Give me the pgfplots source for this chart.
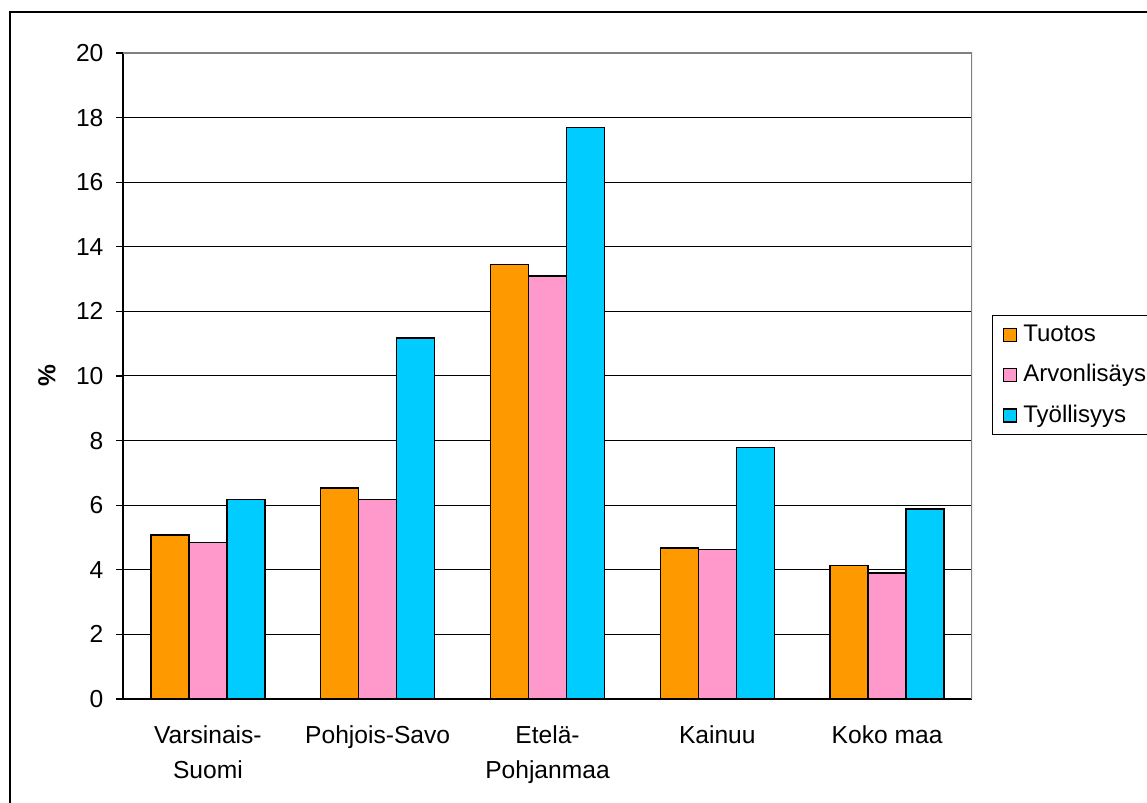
\documentclass[border=0pt]{standalone}
\usepackage{fontspec}
\setmainfont{Liberation Sans}
\usepackage{pgfplots}
\pgfplotsset{compat=1.18}
\definecolor{cO}{HTML}{FF9900}
\definecolor{cP}{HTML}{FF99CC}
\definecolor{cC}{HTML}{00CCFF}
\begin{document}
\fontsize{12.3pt}{14pt}\selectfont
\begin{tikzpicture}
\useasboundingbox (0,0) rectangle (573.5pt,401.5pt);
\clip (0,0) rectangle (573.5pt,401.5pt);
\fill[white] (0,0) rectangle (573.5pt,401.5pt);
\draw[line width=0.6pt] (5pt,-20pt) -- (5pt,395.5pt) -- (600pt,395.5pt);
\begin{axis}[
  at={(61.5pt,52pt)}, anchor=south west,
  scale only axis, width=424.5pt, height=323pt,
  ybar=0pt, bar width=19pt,
  xmin=-0.5, xmax=4.5, ymin=0, ymax=20,
  axis x line*=bottom, axis y line*=left,
  axis line style={black, line width=0.6pt},
  ytick={0,2,...,20},
  tick align=outside,
  major tick length=3.5pt,
  tick style={black, line width=0.6pt},
  ymajorgrids, major grid style={black, line width=0.5pt},
  xtick={0,1,2,3,4},
  xticklabels={{Varsinais-\\Suomi},Pohjois-Savo,{Etelä-\\Pohjanmaa},Kainuu,Koko maa},
  x tick style={draw=none},
  minor xtick={-0.5,0.5,1.5,2.5,3.5,4.5},
  minor tick length=3.5pt,
  minor x tick style={black, line width=0.6pt},
  xticklabel style={align=center, font=\fontsize{12.3pt}{17.5pt}\selectfont, yshift=-5.5pt},
  yticklabel style={font=\fontsize{12.3pt}{14pt}\selectfont, xshift=-2pt},
  /pgf/number format/assume math mode=true,
  ylabel={\textbf{\%}},
  ylabel style={at={(axis description cs:-0.0895,0.5)}, anchor=center, font=\fontsize{12.3pt}{14pt}\selectfont},
  legend style={at={(axis description cs:1.0236,0.594)}, anchor=north west,
    draw=black, line width=0.5pt, font=\fontsize{12pt}{14pt}\selectfont,
    inner xsep=5pt, inner ysep=2.5pt, row sep=5.7pt, legend cell align=left,
    /tikz/every odd column/.append style={column sep=1.2pt}},
  legend image code/.code={\draw[#1, draw=black, line width=0.7pt] (0pt,-3.25pt) rectangle (6.5pt,3.25pt);},
]
\addplot[fill=cO, draw=black, line width=0.7pt] coordinates {(0,5.08) (1,6.53) (2,13.45) (3,4.68) (4,4.13)};
\addplot[fill=cP, draw=black, line width=0.7pt] coordinates {(0,4.85) (1,6.18) (2,13.1) (3,4.62) (4,3.9)};
\addplot[fill=cC, draw=black, line width=0.7pt] coordinates {(0,6.17) (1,11.18) (2,17.7) (3,7.78) (4,5.88)};
\legend{Tuotos,Arvonlisäys,Työllisyys}
\draw[gray, line width=0.6pt] (rel axis cs:0,1) -- (rel axis cs:1,1) -- (rel axis cs:1,0);
\end{axis}
\end{tikzpicture}
\end{document}
